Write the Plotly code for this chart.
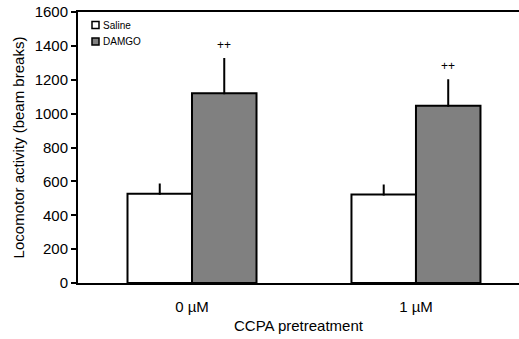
import plotly.graph_objects as go

categories = ["0 µM", "1 µM"]
saline = [527, 522]
saline_err = [55, 53]
damgo = [1120, 1047]
damgo_err = [202, 150]
sig_labels = ["++", "++"]
series_names = ["Saline", "DAMGO"]
series_colors = ["white", "#808080"]

FONT = "Liberation Sans, Arial, sans-serif"

# plot area in pixels (for converting legend placement to paper coords)
W, H = 519, 339
ML, MR, MT, MB = 78, 0, 12, 56
PW, PH = W - ML - MR, H - MT - MB


def px_x(px):
    return (px - ML) / PW


def px_y(py):
    return (H - MB - py) / PH


fig = go.Figure()
for name, vals, errs, col in zip(series_names, [saline, damgo],
                                 [saline_err, damgo_err], series_colors):
    fig.add_trace(go.Bar(
        name=name, x=categories, y=vals, showlegend=False,
        marker=dict(color=col, line=dict(color="black", width=2)),
        error_y=dict(type="data", symmetric=False, array=errs,
                     arrayminus=[0] * len(errs), color="black",
                     thickness=2, width=1),
    ))

# invisible trace on top axis to draw the top frame line
fig.add_trace(go.Scatter(x=categories, y=[None, None], xaxis="x2",
                         showlegend=False, hoverinfo="skip"))

for c, v, e, s in zip(categories, damgo, damgo_err, sig_labels):
    fig.add_annotation(x=c, y=v + e + 85, text=s, showarrow=False,
                       xshift=32, yanchor="middle",
                       font=dict(family=FONT, size=12, color="black"))

# manual legend
for i, (name, col) in enumerate(zip(series_names, series_colors)):
    cy = 25 + i * 16.5
    fig.add_shape(type="rect", xref="paper", yref="paper",
                  x0=px_x(92), x1=px_x(99), y0=px_y(cy + 3.5), y1=px_y(cy - 3.5),
                  fillcolor=col, line=dict(color="black", width=1.5))
    fig.add_annotation(xref="paper", yref="paper", x=px_x(101), y=px_y(cy),
                       text=name, showarrow=False, xanchor="left",
                       yanchor="middle",
                       font=dict(family=FONT, size=10, color="black"))

fig.update_layout(
    width=W, height=H,
    margin=dict(l=ML, r=MR, t=MT, b=MB),
    paper_bgcolor="white", plot_bgcolor="white",
    font=dict(family=FONT, color="black"),
    barmode="group", bargap=0.424, bargroupgap=0,
    showlegend=False,
    xaxis=dict(range=[-0.509, 1.46], showline=True, linecolor="black",
               linewidth=2, ticks="outside", ticklen=9,
               tickcolor="rgba(0,0,0,0)", showgrid=False,
               tickfont=dict(family=FONT, size=15),
               title=dict(text="CCPA pretreatment", standoff=6,
                          font=dict(family=FONT, size=15))),
    xaxis2=dict(overlaying="x", side="top", range=[-0.509, 1.46],
                showline=True, linecolor="black", linewidth=2,
                showticklabels=False, ticks="", showgrid=False,
                matches="x"),
    yaxis=dict(range=[0, 1600], dtick=200, showline=True,
               linecolor="black", linewidth=2, ticks="outside", ticklen=5,
               tickwidth=1.5, tickcolor="black", showgrid=False,
               zeroline=False,
               tickfont=dict(family=FONT, size=15),
               title=dict(text="Locomotor activity (beam breaks)", standoff=6,
                          font=dict(family=FONT, size=15))),
)

fig.write_html("out.html")
